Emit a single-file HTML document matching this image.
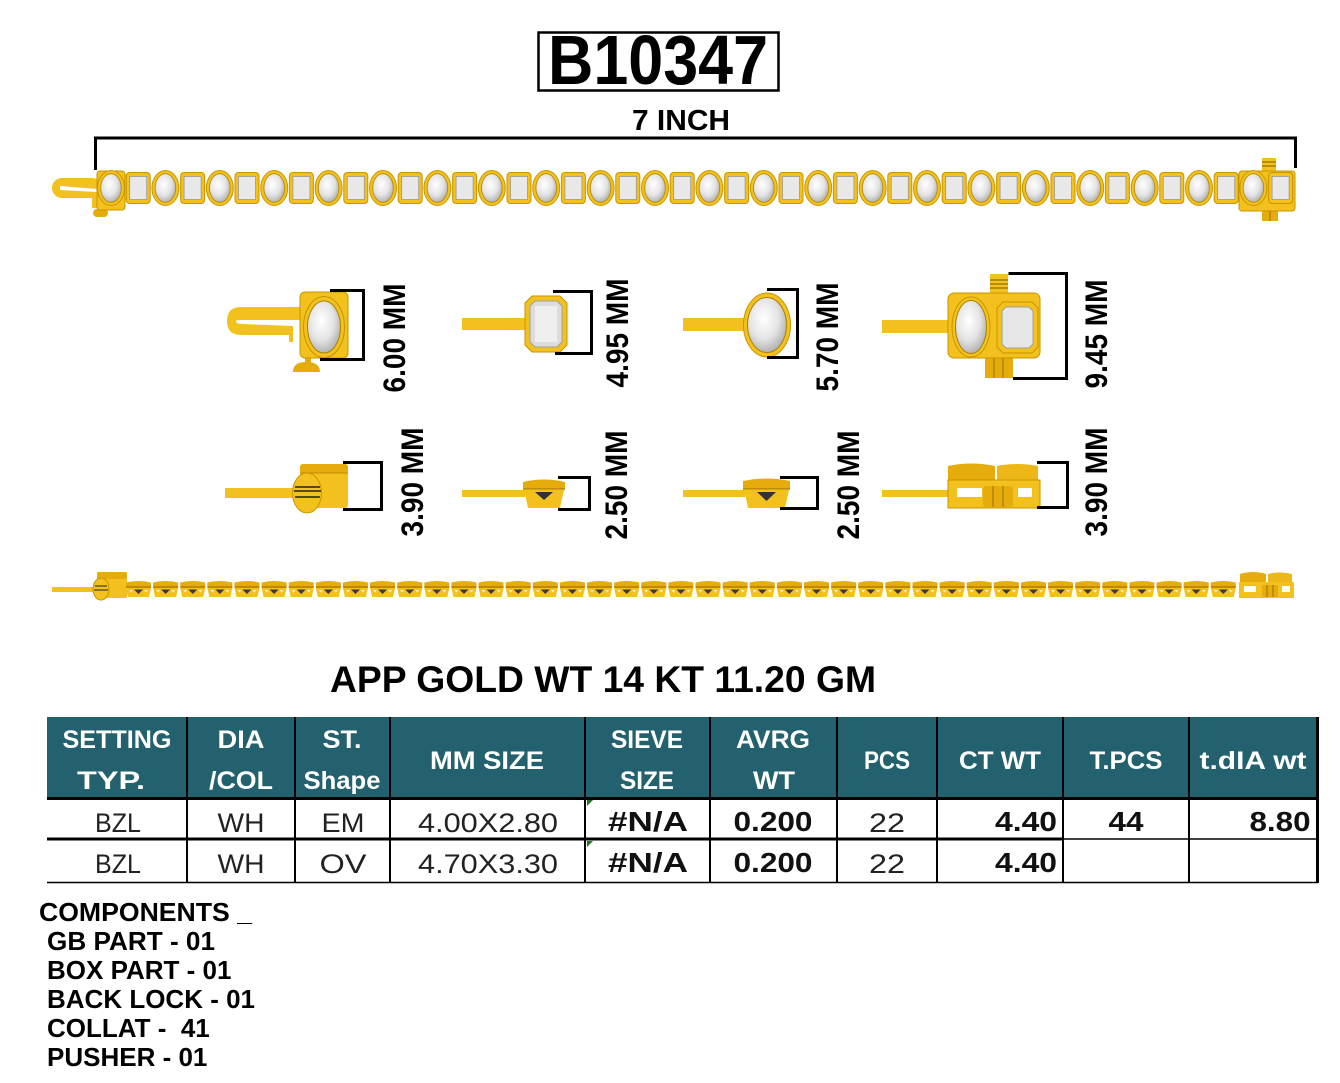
<!DOCTYPE html>
<html><head><meta charset="utf-8"><style>
html,body{margin:0;padding:0;background:#fff;}
svg{display:block;}
text{font-family:"Liberation Sans",Arial,sans-serif;}
</style></head><body>
<svg width="1340" height="1083" viewBox="0 0 1340 1083" xmlns="http://www.w3.org/2000/svg">
<defs>
<radialGradient id="st" cx="42%" cy="38%" r="68%"><stop offset="0" stop-color="#ffffff"/><stop offset=".55" stop-color="#e4e4e4"/><stop offset="1" stop-color="#a8a8a8"/></radialGradient>
<linearGradient id="gv" x1="0" y1="0" x2="0" y2="1"><stop offset="0" stop-color="#FBD040"/><stop offset="1" stop-color="#E9B10E"/></linearGradient>
<g id="ov"><ellipse rx="13.5" ry="17.5" fill="#F3C11D" stroke="#C99500" stroke-width="1"/><ellipse rx="10.3" ry="14.3" fill="url(#st)" stroke="#b08a00" stroke-width=".8"/></g>
<g id="rc"><rect x="-12" y="-15.5" width="24" height="31" rx="3.5" fill="#F3C11D" stroke="#C99500" stroke-width="1"/><rect x="-8.5" y="-11.5" width="17" height="23" fill="#e8e8e8" stroke="#9a9a9a" stroke-width=".8"/></g>
<g id="cl"><path d="M0,1.5 Q12.5,-1.5 25,1.5 L25,6 L0,6 Z" fill="#E5AC0C"/><rect x="0" y="5" width="25" height="2" fill="#C08A00"/><path d="M0,7 L25,7 L23,16 L2,16 Z" fill="#F3C11D"/><path d="M8,8.5 L17,8.5 L12.5,13 Z" fill="#3a3a3a"/><path d="M3,9 L7,9 L5,11.5 Z" fill="#fff3c0"/><path d="M18,9 L22,9 L20,11.5 Z" fill="#fff3c0"/></g>
</defs>

<!-- Title -->
<rect x="538.5" y="32.5" width="240" height="58" fill="none" stroke="#000" stroke-width="2.5"/>
<text transform="translate(658,84) scale(1,1.1)" x="0" y="0" text-anchor="middle" font-size="63" font-weight="bold" textLength="220" lengthAdjust="spacingAndGlyphs">B10347</text>
<text x="681" y="130" text-anchor="middle" font-size="29" font-weight="bold" textLength="98" lengthAdjust="spacingAndGlyphs">7 INCH</text>

<!-- top bracket -->
<polyline points="95.5,170 95.5,138 1295.5,138 1295.5,168" fill="none" stroke="#000" stroke-width="3"/>

<!-- top bracelet -->
<rect x="52" y="178" width="50" height="20" rx="10" fill="#F3C11D"/>
<path d="M60,186 L97,189 L97,192 L60,190 Z" fill="#fff"/>
<rect x="92" y="196" width="6" height="12" fill="#F3C11D"/>
<rect x="93" y="209" width="15" height="8" rx="4" fill="#E5AC0C"/>
<rect x="97" y="171" width="28" height="39" rx="3" fill="#F3C11D" stroke="#C99500"/>
<rect x="1262" y="158" width="14" height="14" fill="#F3C11D"/>
<line x1="1262" y1="162" x2="1276" y2="162" stroke="#7a5a00"/><line x1="1262" y1="166" x2="1276" y2="166" stroke="#7a5a00"/>
<rect x="1262" y="209" width="16" height="12" fill="#E5AC0C"/>
<line x1="1270" y1="209" x2="1270" y2="221" stroke="#9a7000"/>
<rect x="1239" y="171" width="56" height="40" rx="3" fill="#F3C11D" stroke="#C99500"/>
<use href="#ov" x="111" y="188"/><use href="#ov" x="165.4" y="188"/><use href="#ov" x="219.8" y="188"/><use href="#ov" x="274.2" y="188"/><use href="#ov" x="328.6" y="188"/><use href="#ov" x="383" y="188"/><use href="#ov" x="437.4" y="188"/><use href="#ov" x="491.8" y="188"/><use href="#ov" x="546.2" y="188"/><use href="#ov" x="600.6" y="188"/><use href="#ov" x="655" y="188"/><use href="#ov" x="709.4" y="188"/><use href="#ov" x="763.8" y="188"/><use href="#ov" x="818.2" y="188"/><use href="#ov" x="872.6" y="188"/><use href="#ov" x="927" y="188"/><use href="#ov" x="981.4" y="188"/><use href="#ov" x="1035.8" y="188"/><use href="#ov" x="1090.2" y="188"/><use href="#ov" x="1144.6" y="188"/><use href="#ov" x="1199" y="188"/><use href="#ov" x="1253.4" y="188"/>
<use href="#rc" x="138.2" y="188"/><use href="#rc" x="192.6" y="188"/><use href="#rc" x="247" y="188"/><use href="#rc" x="301.4" y="188"/><use href="#rc" x="355.8" y="188"/><use href="#rc" x="410.2" y="188"/><use href="#rc" x="464.6" y="188"/><use href="#rc" x="519" y="188"/><use href="#rc" x="573.4" y="188"/><use href="#rc" x="627.8" y="188"/><use href="#rc" x="682.2" y="188"/><use href="#rc" x="736.6" y="188"/><use href="#rc" x="791" y="188"/><use href="#rc" x="845.4" y="188"/><use href="#rc" x="899.8" y="188"/><use href="#rc" x="954.2" y="188"/><use href="#rc" x="1008.6" y="188"/><use href="#rc" x="1063" y="188"/><use href="#rc" x="1117.4" y="188"/><use href="#rc" x="1171.8" y="188"/><use href="#rc" x="1226.2" y="188"/><use href="#rc" x="1280.6" y="188"/>

<!-- C1 back lock front -->
<path d="M241,307 L302,307 L302,320 L242,320 Q236,320 236,321 Q236,324 242,324 L293,326 L293,342 L289,342 L289,335 L241,335 Q227,335 227,321 Q227,307 241,307 Z" fill="#F3C11D"/>
<rect x="305" y="356" width="6" height="8" fill="#E5AC0C"/>
<path d="M293,372 Q293,362 306,362 Q320,362 320,372 Z" fill="#E5AC0C"/>
<rect x="300" y="292" width="48" height="66" rx="5" fill="#F3C11D" stroke="#C99500"/>
<ellipse cx="324" cy="327" rx="20.5" ry="30.5" fill="#F3C11D" stroke="#C99500"/>
<ellipse cx="324" cy="327" rx="16.5" ry="26" fill="url(#st)" stroke="#a88400"/>
<path d="M330,290.5 L363.5,290.5 L363.5,359.5 L320,359.5" fill="none" stroke="#000" stroke-width="3"/>
<text transform="translate(395,338) rotate(-90) scale(1,1.12)" text-anchor="middle" dominant-baseline="central" font-size="28" font-weight="bold">6.00 MM</text>

<!-- C2 EM front -->
<rect x="462" y="318" width="66" height="12" fill="#F3C11D"/>
<path d="M532,296 L560,296 L567,303 L567,345 L560,352 L532,352 L525,345 L525,303 Z" fill="#F3C11D" stroke="#C99500"/>
<path d="M535,301 L557,301 L562,306 L562,342 L557,347 L535,347 L530,342 L530,306 Z" fill="#dcdcdc" stroke="#a0a0a0"/>
<rect x="535" y="306" width="22" height="36" fill="#efefef"/>
<path d="M553,291.5 L591.5,291.5 L591.5,353.5 L555,353.5" fill="none" stroke="#000" stroke-width="3"/>
<text transform="translate(618,333) rotate(-90) scale(1,1.12)" text-anchor="middle" dominant-baseline="central" font-size="28" font-weight="bold">4.95 MM</text>

<!-- C3 oval front -->
<rect x="683" y="318" width="64" height="13" fill="#F3C11D"/>
<ellipse cx="767" cy="325" rx="23.5" ry="32" fill="#F3C11D" stroke="#C99500"/>
<ellipse cx="767" cy="325" rx="19.5" ry="27.5" fill="url(#st)" stroke="#a88400"/>
<path d="M767,289.5 L797.5,289.5 L797.5,357.5 L767,357.5" fill="none" stroke="#000" stroke-width="3"/>
<text transform="translate(828,337) rotate(-90) scale(1,1.12)" text-anchor="middle" dominant-baseline="central" font-size="28" font-weight="bold">5.70 MM</text>

<!-- C4 box clasp front -->
<rect x="882" y="320" width="68" height="13" fill="#F3C11D"/>
<rect x="990" y="274" width="18" height="20" fill="#F3C11D"/>
<line x1="990" y1="280" x2="1008" y2="280" stroke="#7a5a00"/><line x1="990" y1="284" x2="1008" y2="284" stroke="#7a5a00"/><line x1="990" y1="288" x2="1008" y2="288" stroke="#7a5a00"/>
<rect x="985" y="355" width="28" height="23" fill="#E5AC0C"/>
<line x1="994" y1="355" x2="994" y2="378" stroke="#9a7000"/><line x1="1003" y1="355" x2="1003" y2="378" stroke="#9a7000"/>
<rect x="948" y="293" width="92" height="65" rx="6" fill="#F3C11D" stroke="#C99500"/>
<ellipse cx="971" cy="327" rx="19" ry="30" fill="#F3C11D" stroke="#C99500"/>
<ellipse cx="971" cy="327" rx="15.5" ry="26.5" fill="url(#st)" stroke="#a88400"/>
<path d="M1003,302 L1032,302 L1038,308 L1038,347 L1032,353 L1003,353 L997,347 L997,308 Z" fill="#F3C11D" stroke="#C99500"/>
<path d="M1006,307 L1029,307 L1033,311 L1033,344 L1029,348 L1006,348 L1002,344 L1002,311 Z" fill="#e6e6e6" stroke="#a0a0a0"/>
<path d="M1008.5,273.5 L1066.5,273.5 L1066.5,378.5 L1013,378.5" fill="none" stroke="#000" stroke-width="3"/>
<text transform="translate(1097,334) rotate(-90) scale(1,1.12)" text-anchor="middle" dominant-baseline="central" font-size="28" font-weight="bold">9.45 MM</text>

<!-- C5 back lock side -->
<rect x="225" y="488" width="76" height="10" fill="#F3C11D"/>
<rect x="300" y="464" width="48" height="44" rx="3" fill="#F3C11D"/>
<rect x="300" y="464" width="48" height="9" rx="3" fill="#E5AC0C"/>
<line x1="300" y1="473" x2="348" y2="473" stroke="#C08A00"/>
<ellipse cx="307" cy="493" rx="14.5" ry="20" fill="#F3C11D" stroke="#C99500"/>
<line x1="295" y1="487" x2="320" y2="487" stroke="#222" stroke-width="1.5"/><line x1="294" y1="491" x2="321" y2="491" stroke="#222" stroke-width="1.5"/><line x1="295" y1="497" x2="320" y2="497" stroke="#222" stroke-width="1.5"/>
<path d="M343,462.5 L381.5,462.5 L381.5,509.5 L343,509.5" fill="none" stroke="#000" stroke-width="3"/>
<text transform="translate(413,482) rotate(-90) scale(1,1.12)" text-anchor="middle" dominant-baseline="central" font-size="28" font-weight="bold">3.90 MM</text>

<!-- C6 EM collat side -->
<rect x="462" y="490" width="63" height="7" fill="#F3C11D"/>
<path d="M523,482 Q544,477 565,482 L565,489 L523,489 Z" fill="#E5AC0C"/>
<line x1="523" y1="489" x2="565" y2="489" stroke="#B88200" stroke-width="1.5"/>
<path d="M524,490 L564,490 L560,508 L528,508 Z" fill="#F3C11D"/>
<path d="M535,492 L553,492 L544,500 Z" fill="#333"/>
<path d="M558,477.5 L589.5,477.5 L589.5,509.5 L558,509.5" fill="none" stroke="#000" stroke-width="3"/>
<text transform="translate(617,485) rotate(-90) scale(1,1.12)" text-anchor="middle" dominant-baseline="central" font-size="28" font-weight="bold">2.50 MM</text>

<!-- C7 oval collat side -->
<rect x="683" y="490" width="62" height="7" fill="#F3C11D"/>
<path d="M743,481 Q766.5,476 790,481 L790,489 L743,489 Z" fill="#E5AC0C"/>
<line x1="743" y1="489" x2="790" y2="489" stroke="#B88200" stroke-width="1.5"/>
<path d="M744,490 L789,490 L785,508 L748,508 Z" fill="#F3C11D"/>
<path d="M757,492 L776,492 L766.5,501 Z" fill="#333"/>
<path d="M780,477.5 L817.5,477.5 L817.5,508.5 L780,508.5" fill="none" stroke="#000" stroke-width="3"/>
<text transform="translate(849,485) rotate(-90) scale(1,1.12)" text-anchor="middle" dominant-baseline="central" font-size="28" font-weight="bold">2.50 MM</text>

<!-- C8 box clasp side -->
<rect x="882" y="490" width="68" height="7" fill="#F3C11D"/>
<path d="M948,466 Q971,461 995,466 L995,481 L948,481 Z" fill="#E5AC0C"/>
<path d="M997,466 Q1017,462 1038,466 L1038,481 L997,481 Z" fill="#EDB718"/>
<rect x="948" y="480" width="92" height="28" fill="#F3C11D" stroke="#C99500"/>
<rect x="957" y="488" width="25" height="9" fill="#fff"/>
<rect x="1018" y="488" width="14" height="9" fill="#fff"/>
<rect x="983" y="486" width="30" height="21" rx="3" fill="#E5AC0C"/>
<line x1="993" y1="486" x2="993" y2="507" stroke="#9a7000"/><line x1="1003" y1="486" x2="1003" y2="507" stroke="#9a7000"/>
<path d="M1037,462.5 L1067.5,462.5 L1067.5,507.5 L1037,507.5" fill="none" stroke="#000" stroke-width="3"/>
<text transform="translate(1097,482) rotate(-90) scale(1,1.12)" text-anchor="middle" dominant-baseline="central" font-size="28" font-weight="bold">3.90 MM</text>

<!-- bottom bracelet -->
<rect x="52" y="587" width="46" height="5" fill="#F3C11D"/>
<rect x="97" y="572" width="30" height="26" rx="2" fill="#F3C11D"/>
<rect x="97" y="572" width="30" height="7" rx="2" fill="#E5AC0C"/>
<ellipse cx="101" cy="589" rx="8" ry="11" fill="#F3C11D" stroke="#C99500"/>
<line x1="95" y1="586" x2="107" y2="586" stroke="#222"/><line x1="94" y1="590" x2="108" y2="590" stroke="#222"/>
<use href="#cl" x="126" y="581"/><use href="#cl" x="153.12" y="581"/><use href="#cl" x="180.24" y="581"/><use href="#cl" x="207.36" y="581"/><use href="#cl" x="234.48" y="581"/><use href="#cl" x="261.6" y="581"/><use href="#cl" x="288.72" y="581"/><use href="#cl" x="315.84" y="581"/><use href="#cl" x="342.96" y="581"/><use href="#cl" x="370.08" y="581"/><use href="#cl" x="397.2" y="581"/><use href="#cl" x="424.32" y="581"/><use href="#cl" x="451.44" y="581"/><use href="#cl" x="478.56" y="581"/><use href="#cl" x="505.68" y="581"/><use href="#cl" x="532.8" y="581"/><use href="#cl" x="559.92" y="581"/><use href="#cl" x="587.04" y="581"/><use href="#cl" x="614.16" y="581"/><use href="#cl" x="641.28" y="581"/><use href="#cl" x="668.4" y="581"/><use href="#cl" x="695.52" y="581"/><use href="#cl" x="722.64" y="581"/><use href="#cl" x="749.76" y="581"/><use href="#cl" x="776.88" y="581"/><use href="#cl" x="804" y="581"/><use href="#cl" x="831.12" y="581"/><use href="#cl" x="858.24" y="581"/><use href="#cl" x="885.36" y="581"/><use href="#cl" x="912.48" y="581"/><use href="#cl" x="939.6" y="581"/><use href="#cl" x="966.72" y="581"/><use href="#cl" x="993.84" y="581"/><use href="#cl" x="1020.96" y="581"/><use href="#cl" x="1048.08" y="581"/><use href="#cl" x="1075.2" y="581"/><use href="#cl" x="1102.32" y="581"/><use href="#cl" x="1129.44" y="581"/><use href="#cl" x="1156.56" y="581"/><use href="#cl" x="1183.68" y="581"/><use href="#cl" x="1210.8" y="581"/>
<path d="M1240,574 Q1253,570 1266,574 L1266,583 L1240,583 Z" fill="#E5AC0C"/>
<path d="M1268,574 Q1280,571 1292,574 L1292,583 L1268,583 Z" fill="#EDB718"/>
<rect x="1239" y="582" width="55" height="16" fill="#F3C11D"/>
<rect x="1244" y="586" width="12" height="6" fill="#fff"/>
<rect x="1282" y="586" width="8" height="6" fill="#fff"/>
<rect x="1262" y="585" width="16" height="12" rx="2" fill="#E5AC0C"/>
<line x1="1267" y1="585" x2="1267" y2="597" stroke="#9a7000"/><line x1="1273" y1="585" x2="1273" y2="597" stroke="#9a7000"/>

<!-- gold wt -->
<text x="603" y="692" text-anchor="middle" font-size="37" font-weight="bold" textLength="546" lengthAdjust="spacingAndGlyphs">APP GOLD WT 14 KT 11.20 GM</text>

<!-- table -->
<rect x="47" y="717" width="1271" height="81" fill="#22616D"/>
<g stroke="#000" stroke-width="2">
<line x1="187" y1="717" x2="187" y2="883"/><line x1="295" y1="717" x2="295" y2="883"/><line x1="390" y1="717" x2="390" y2="883"/><line x1="585" y1="717" x2="585" y2="883"/><line x1="710" y1="717" x2="710" y2="883"/><line x1="837" y1="717" x2="837" y2="883"/><line x1="937" y1="717" x2="937" y2="883"/><line x1="1063" y1="717" x2="1063" y2="883"/><line x1="1189" y1="717" x2="1189" y2="883"/>
</g>
<line x1="1317.5" y1="717" x2="1317.5" y2="883" stroke="#000" stroke-width="3"/>
<line x1="47" y1="798.5" x2="1318" y2="798.5" stroke="#000" stroke-width="3"/>
<line x1="47" y1="839" x2="1063" y2="839" stroke="#000" stroke-width="3"/>
<line x1="1063" y1="839" x2="1318" y2="839" stroke="#000" stroke-width="1.5"/>
<line x1="47" y1="882.5" x2="1318" y2="882.5" stroke="#000" stroke-width="1.5"/>
<path d="M587,800 L593,800 L587,806 Z" fill="#1f7a1f"/>
<path d="M587,841 L593,841 L587,847 Z" fill="#1f7a1f"/>

<g fill="#fff" font-size="25" font-weight="bold" text-anchor="middle">
<text x="117" y="748" textLength="109" lengthAdjust="spacingAndGlyphs">SETTING</text>
<text x="111" y="789" textLength="68" lengthAdjust="spacingAndGlyphs">TYP.</text>
<text x="241" y="748" textLength="47" lengthAdjust="spacingAndGlyphs">DIA</text>
<text x="241" y="789" textLength="64" lengthAdjust="spacingAndGlyphs">/COL</text>
<text x="342" y="748" textLength="39" lengthAdjust="spacingAndGlyphs">ST.</text>
<text x="342" y="789" textLength="77" lengthAdjust="spacingAndGlyphs">Shape</text>
<text x="487" y="769" textLength="114" lengthAdjust="spacingAndGlyphs">MM SIZE</text>
<text x="647" y="748" textLength="72" lengthAdjust="spacingAndGlyphs">SIEVE</text>
<text x="647" y="789" textLength="54" lengthAdjust="spacingAndGlyphs">SIZE</text>
<text x="773" y="748" textLength="74" lengthAdjust="spacingAndGlyphs">AVRG</text>
<text x="774" y="789" textLength="42" lengthAdjust="spacingAndGlyphs">WT</text>
<text x="887" y="769" textLength="46" lengthAdjust="spacingAndGlyphs">PCS</text>
<text x="1000" y="769" textLength="82" lengthAdjust="spacingAndGlyphs">CT WT</text>
<text x="1126" y="769" textLength="73" lengthAdjust="spacingAndGlyphs">T.PCS</text>
<text x="1253" y="769" textLength="107" lengthAdjust="spacingAndGlyphs">t.dIA wt</text>
</g>

<g fill="#222" font-size="27" text-anchor="middle">
<text x="118" y="832" textLength="46" lengthAdjust="spacingAndGlyphs">BZL</text>
<text x="241" y="832" textLength="47" lengthAdjust="spacingAndGlyphs">WH</text>
<text x="343" y="832" textLength="43" lengthAdjust="spacingAndGlyphs">EM</text>
<text x="488" y="832" textLength="140" lengthAdjust="spacingAndGlyphs">4.00X2.80</text>
<text x="887" y="832" textLength="36" lengthAdjust="spacingAndGlyphs">22</text>
<text x="118" y="873" textLength="46" lengthAdjust="spacingAndGlyphs">BZL</text>
<text x="241" y="873" textLength="47" lengthAdjust="spacingAndGlyphs">WH</text>
<text x="343" y="873" textLength="47" lengthAdjust="spacingAndGlyphs">OV</text>
<text x="488" y="873" textLength="140" lengthAdjust="spacingAndGlyphs">4.70X3.30</text>
<text x="887" y="873" textLength="36" lengthAdjust="spacingAndGlyphs">22</text>
</g>
<g fill="#111" font-size="28" font-weight="bold" text-anchor="middle">
<text x="648" y="831" textLength="80" lengthAdjust="spacingAndGlyphs">#N/A</text>
<text x="773" y="831" textLength="79" lengthAdjust="spacingAndGlyphs">0.200</text>
<text x="1026" y="831" textLength="62" lengthAdjust="spacingAndGlyphs">4.40</text>
<text x="1126" y="831" textLength="35" lengthAdjust="spacingAndGlyphs">44</text>
<text x="1280" y="831" textLength="61" lengthAdjust="spacingAndGlyphs">8.80</text>
<text x="648" y="872" textLength="80" lengthAdjust="spacingAndGlyphs">#N/A</text>
<text x="773" y="872" textLength="79" lengthAdjust="spacingAndGlyphs">0.200</text>
<text x="1026" y="872" textLength="62" lengthAdjust="spacingAndGlyphs">4.40</text>
</g>

<!-- components -->
<g font-size="26" font-weight="bold" fill="#000">
<text x="39" y="921" textLength="213" lengthAdjust="spacingAndGlyphs">COMPONENTS _</text>
<text x="47" y="950" textLength="168" lengthAdjust="spacingAndGlyphs">GB PART - 01</text>
<text x="47" y="979">BOX PART - 01</text>
<text x="47" y="1008">BACK LOCK - 01</text>
<text x="47" y="1037" xml:space="preserve">COLLAT -  41</text>
<text x="47" y="1066">PUSHER - 01</text>
</g>
</svg>
</body></html>
